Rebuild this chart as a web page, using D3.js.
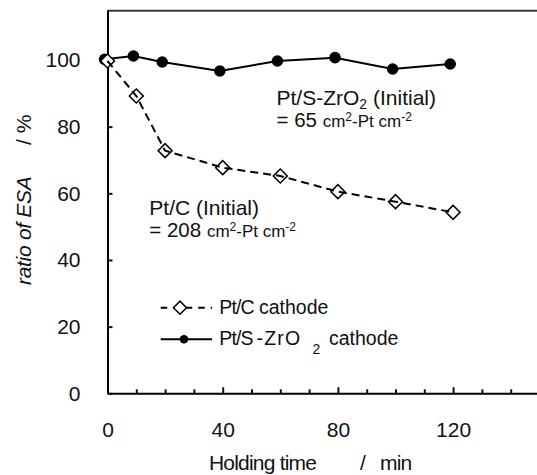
<!DOCTYPE html>
<html>
<head>
<meta charset="utf-8">
<script src="https://cdn.jsdelivr.net/npm/d3@7"></script>
<style>
  html, body { margin: 0; padding: 0; background: #fff; }
  svg { display: block; font-family: "Liberation Sans", Arial, sans-serif; }
</style>
</head>
<body>
<svg id="chart" width="537" height="475"></svg>
<script>
// Holding time (min) and ESA retention (%) for the two cathodes
const timePtC = [0, 10, 20, 40, 60, 80, 100, 120];
const ratioPtC = [99.7, 89.2, 72.8, 67.7, 65.2, 60.5, 57.5, 54.3];
const timeZr = [-1, 9, 19, 39, 59, 79, 99, 119];
const ratioZr = [100.2, 101.2, 99.4, 96.7, 99.7, 100.7, 97.3, 98.8];

const xMajorTicks = [0, 40, 80, 120];
const xMinorTicks = [10, 20, 30, 50, 60, 70, 90, 100, 110, 130, 140];
const yTicks = [0, 20, 40, 60, 80, 100];

const svg = d3.select("#chart");

const x = d3.scaleLinear().domain([0, 150]).range([107.5, 539.5]);
const y = d3.scaleLinear().domain([0, 115]).range([393.3, 10]);

// top frame line
svg.append("line")
  .attr("x1", x(0)).attr("x2", 537)
  .attr("y1", y(115) + 0.7).attr("y2", y(115) + 0.7)
  .attr("stroke", "#3a3a3a").attr("stroke-width", 2);

// minor x ticks (inward)
svg.append("g")
  .attr("transform", `translate(0,${y(0)})`)
  .call(d3.axisBottom(x).tickValues(xMinorTicks).tickSizeInner(-4).tickSizeOuter(0).tickFormat(""))
  .call(g => g.select(".domain").remove())
  .call(g => g.selectAll("line").attr("stroke", "#111").attr("stroke-width", 2));

// x axis with major ticks and labels
svg.append("g")
  .attr("transform", `translate(0,${y(0)})`)
  .call(d3.axisBottom(x).tickValues(xMajorTicks).tickSizeInner(-6).tickSizeOuter(0).tickPadding(29))
  .call(g => g.select(".domain").attr("stroke", "#000").attr("stroke-width", 2))
  .call(g => g.selectAll("line").attr("stroke", "#111").attr("stroke-width", 2))
  .call(g => g.selectAll("text")
    .attr("font-size", 21).attr("fill", "#111")
    .attr("font-family", "Liberation Sans, Arial, sans-serif"));

// y axis
svg.append("g")
  .attr("transform", `translate(${x(0)},0)`)
  .call(d3.axisLeft(y).tickValues(yTicks).tickSizeInner(-5).tickSizeOuter(0).tickPadding(27))
  .call(g => g.select(".domain").attr("stroke", "#000").attr("stroke-width", 2))
  .call(g => g.selectAll("line").attr("stroke", "#111").attr("stroke-width", 2))
  .call(g => g.selectAll("text")
    .attr("font-size", 21).attr("fill", "#111")
    .attr("font-family", "Liberation Sans, Arial, sans-serif"));

// Pt/S-ZrO2 series: solid line with filled circles
const zrData = timeZr.map((t, i) => ({ t, v: ratioZr[i] }));
const ptcData = timePtC.map((t, i) => ({ t, v: ratioPtC[i] }));
const line = d3.line().x(d => x(d.t)).y(d => y(d.v));

svg.append("path").datum(zrData)
  .attr("d", line).attr("fill", "none")
  .attr("stroke", "#000").attr("stroke-width", 2);
svg.append("g").selectAll("circle").data(zrData).join("circle")
  .attr("cx", d => x(d.t)).attr("cy", d => y(d.v)).attr("r", 5.8)
  .attr("fill", "#000");

// Pt/C series: open diamonds with dashed line
const diamond = d3.symbol(d3.symbolSquare, 98);
svg.append("g").selectAll("path").data(ptcData).join("path")
  .attr("d", diamond)
  .attr("transform", d => `translate(${x(d.t)},${y(d.v)}) rotate(45)`)
  .attr("fill", "#fff").attr("stroke", "#000").attr("stroke-width", 1.5);
svg.append("path").datum(ptcData)
  .attr("d", line).attr("fill", "none")
  .attr("stroke", "#000").attr("stroke-width", 2)
  .attr("stroke-dasharray", "8,5");

// annotations: initial surface areas
function areaNote(x0, y0, value) {
  const t = svg.append("text").attr("x", x0).attr("y", y0).attr("fill", "#111").attr("font-size", 20.5);
  t.append("tspan").text(`= ${value} `);
  t.append("tspan").attr("font-size", 17).text("cm");
  t.append("tspan").attr("font-size", 12).attr("dy", -6).text("2");
  t.append("tspan").attr("font-size", 17).attr("dy", 6).text("-Pt cm");
  t.append("tspan").attr("font-size", 12).attr("dy", -6).text("-2");
}

const ann1 = svg.append("text").attr("x", 276.5).attr("y", 104.5).attr("fill", "#111").attr("font-size", 21);
ann1.append("tspan").text("Pt/S-ZrO");
ann1.append("tspan").attr("font-size", 14).attr("dy", 4).text("2");
ann1.append("tspan").attr("dy", -4).text(" (Initial)");
areaNote(276.5, 127, 65);

svg.append("text").attr("x", 149.3).attr("y", 215).attr("fill", "#111").attr("font-size", 21)
  .text("Pt/C (Initial)");
areaNote(149.3, 237, 208);

// legend
const legend = svg.append("g");
legend.append("line")
  .attr("x1", 160.7).attr("x2", 212).attr("y1", 307.7).attr("y2", 307.7)
  .attr("stroke", "#000").attr("stroke-width", 2).attr("stroke-dasharray", "6.5,6");
legend.append("path")
  .attr("d", d3.symbol(d3.symbolSquare, 85))
  .attr("transform", "translate(180,307.7) rotate(45)")
  .attr("fill", "#fff").attr("stroke", "#000").attr("stroke-width", 1.5);
const leg1 = legend.append("text").attr("y", 313.5).attr("font-size", 19.5).attr("fill", "#111");
leg1.append("tspan").attr("x", 219.3).attr("letter-spacing", -0.9).text("Pt/C");
leg1.append("tspan").attr("x", 259).text("cathode");

legend.append("line")
  .attr("x1", 160.7).attr("x2", 212).attr("y1", 339.3).attr("y2", 339.3)
  .attr("stroke", "#000").attr("stroke-width", 2);
legend.append("circle").attr("cx", 184).attr("cy", 339.3).attr("r", 4.3).attr("fill", "#000");
const leg2 = legend.append("text").attr("y", 345.2).attr("font-size", 19.5).attr("fill", "#111");
leg2.append("tspan").attr("x", 219.3).attr("letter-spacing", -0.9).text("Pt/S");
leg2.append("tspan").attr("x", 256.5).attr("letter-spacing", 1.2).text("-ZrO");
leg2.append("tspan").attr("x", 312.5).attr("dy", 9).attr("font-size", 14).text("2");
leg2.append("tspan").attr("x", 329).attr("dy", -9).text("cathode");

// axis titles
const xt = svg.append("text").attr("y", 469.5).attr("font-size", 21).attr("fill", "#111")
  .attr("letter-spacing", -0.8);
xt.append("tspan").attr("x", 209).text("Holding time");
xt.append("tspan").attr("x", 360).text("/");
xt.append("tspan").attr("x", 380).text("min");

const yt = svg.append("text")
  .attr("transform", "translate(30.5,285) rotate(-90)")
  .attr("font-size", 21).attr("fill", "#111");
yt.append("tspan").attr("x", 0).attr("font-style", "italic").attr("letter-spacing", -0.3).text("ratio of ESA");
yt.append("tspan").attr("x", 140).text("/ %");
</script>
</body>
</html>
